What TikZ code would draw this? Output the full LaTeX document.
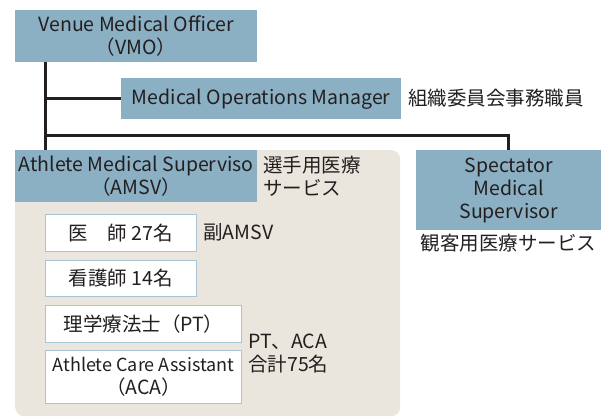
\documentclass[tikz,border=0pt]{standalone}
\usepackage{fontspec}
\setmainfont{Noto Sans CJK JP}
\definecolor{boxblue}{HTML}{8BAFC3}
\definecolor{panelbg}{HTML}{EAE6DD}
\definecolor{wedge}{HTML}{A9C5D5}
\definecolor{ink}{HTML}{231F20}
\tikzset{
  txt/.style={font=\fontsize{19.5}{23}\selectfont, text=ink, inner sep=0pt, align=center},
  bluebox/.style={txt, fill=boxblue, anchor=north west},
  whitebox/.style={txt, fill=white, draw=wedge, line width=1pt, anchor=north west},
  panel/.style={fill=panelbg, rounded corners=9pt, anchor=north west, inner sep=0pt},
  conn/.style={draw=ink, line width=3pt},
  note/.style={txt, align=left, anchor=west},
}
\begin{document}
\begin{tikzpicture}[x=1pt,y=-1pt]
\useasboundingbox (0,0) rectangle (602,418);
\node[panel, minimum width=385pt, minimum height=266pt] (panel) at (15,150) {};
\node[bluebox, minimum width=242pt, minimum height=52pt] (vmo) at (15,10) {Venue Medical Officer\\（VMO）};
\node[bluebox, minimum width=280pt, minimum height=41pt] (mom) at (121,78) {Medical Operations Manager};
\node[note] (momnote) at (408,98.5) {組織委員会事務職員};
\node[bluebox, minimum width=242pt, minimum height=52pt] (amsv) at (15,150) {Athlete Medical Superviso\\（AMSV）};
\node[note] (amsvnote) at (263,176) {選手用医療\\サービス};
\node[bluebox, minimum width=185pt, minimum height=80pt] (smo) at (416,150) {Spectator\\Medical\\Supervisor};
\node[txt, anchor=north] (smonote) at ([yshift=-4pt]smo.south) {観客用医療サービス};
\node[whitebox, minimum width=151pt, minimum height=37pt] (d1) at (45,214) {医\hspace{1em}師 27名};
\node[note] (d1note) at (203,232.5) {副AMSV};
\node[whitebox, minimum width=151pt, minimum height=36pt] (d2) at (45,260) {看護師 14名};
\node[whitebox, minimum width=196pt, minimum height=37pt] (d3) at (45,305) {理学療法士（PT）};
\node[whitebox, minimum width=196pt, minimum height=53pt] (d4) at (45,350) {{\fontsize{18}{23}\selectfont Athlete Care Assistant}\\（ACA）};
\node[note] (d34note) at (248,354) {PT、ACA\\合計75名};
\draw[conn] (vmo.south -| d1.west) -- (amsv.north -| d1.west);
\draw[conn] (mom.west -| d1.west) -- (mom.west);
\coordinate (junc) at (vmo.south -| d1.west);
\draw[conn] (junc |- 0,135) -| (smo.north);
\end{tikzpicture}
\end{document}
